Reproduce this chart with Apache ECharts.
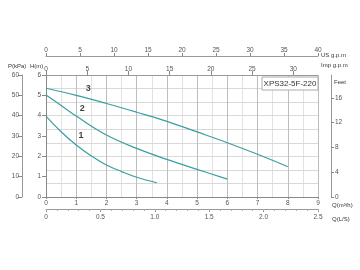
<!DOCTYPE html>
<html><head><meta charset="utf-8">
<script src="https://cdn.jsdelivr.net/npm/echarts@6/dist/echarts.min.js"></script>
<style>html,body{margin:0;padding:0;background:#fff}#c{width:360px;height:270px}</style>
</head><body><div id="c"></div>
<script>
// Curve data: flow Q (m³/h) vs head H (m)
const flow1 = [0, 0.5, 1, 1.5, 2, 2.5, 3, 3.67];
const head1 = [3.98, 3.21, 2.56, 2.02, 1.57, 1.25, 0.97, 0.70];
const flow2 = [0, 0.5, 1, 2, 3, 4, 5, 6];
const head2 = [5.02, 4.5, 3.98, 3.05, 2.39, 1.85, 1.36, 0.88];
const flow3 = [0, 1, 2, 3, 4, 5, 6, 7, 8];
const head3 = [5.35, 5.0, 4.6, 4.17, 3.72, 3.2, 2.67, 2.1, 1.49];
const curveNames = ['1', '2', '3'];
const curveLabelPos = [[1.16, 3.03], [1.2, 4.36], [1.4, 5.33]];
const modelName = 'XPS32-5F-220';
const lsLabels = ['0', '0.5', '1.0', '1.5', '2.0', '2.5'];

const teal = '#3a9fa0';
const tickFont = {fontSize: 6.5, color: '#555', fontFamily: 'Liberation Sans'};
const zip = (a, b) => a.map((v, i) => [v, b[i]]);

const chart = echarts.init(document.getElementById('c'), null, {renderer: 'canvas'});
const axisLine = {show: true, onZero: false, lineStyle: {color: '#999', width: 1}};
const tickStyle = {color: '#888'};
chart.setOption({
  animation: false,
  grid: {left: 46, right: 42, top: 75, bottom: 73},
  xAxis: [
    {type: 'value', min: 0, max: 9, interval: 1, position: 'bottom',
     axisLine: {show: true, onZero: false, lineStyle: {color: '#888'}},
     axisTick: {show: true, length: 2, lineStyle: tickStyle},
     axisLabel: Object.assign({margin: 3}, tickFont),
     splitLine: {show: true, lineStyle: {color: '#bdbdbd', width: 1}}},
    {type: 'value', min: 0, max: 40, interval: 5, position: 'top', offset: 19,
     axisLine: axisLine,
     axisTick: {show: true, length: 3, lineStyle: tickStyle},
     axisLabel: Object.assign({margin: 2}, tickFont),
     splitLine: {show: false}},
    {type: 'value', min: 0, max: 33, interval: 5, position: 'top', offset: 0,
     axisLine: axisLine,
     axisTick: {show: true, length: 4, lineStyle: tickStyle},
     axisLabel: Object.assign({margin: 2, showMaxLabel: false}, tickFont),
     splitLine: {show: false}},
    {type: 'value', min: 0, max: 2.5, interval: 0.5, position: 'bottom', offset: 12,
     axisLine: axisLine,
     axisTick: {show: true, length: 3, lineStyle: tickStyle},
     axisLabel: Object.assign({margin: 5, formatter: (v) => lsLabels[Math.round(v * 2)]}, tickFont),
     splitLine: {show: false}},
    {type: 'value', min: 0, max: 2.5, interval: 0.1, position: 'bottom', offset: 12,
     axisLine: {show: false, onZero: false},
     axisTick: {show: true, length: 2, lineStyle: {color: '#aaa'}},
     axisLabel: {show: false},
     splitLine: {show: false}},
    {type: 'value', min: 0, max: 9, interval: 0.5, position: 'bottom',
     axisLine: {show: false, onZero: false}, axisTick: {show: false}, axisLabel: {show: false},
     splitLine: {show: true, lineStyle: {color: '#e2e2e2', width: 1}}, z: -1}
  ],
  yAxis: [
    {type: 'value', min: 0, max: 6, interval: 1, position: 'left',
     axisLine: {show: true, onZero: false, lineStyle: {color: '#888'}},
     axisTick: {show: true, length: 4, lineStyle: tickStyle},
     axisLabel: Object.assign({margin: 5}, tickFont),
     splitLine: {show: false}},
    {type: 'value', min: 0, max: 60, interval: 10, position: 'left', offset: 24,
     axisLine: axisLine,
     axisTick: {show: true, length: 4, lineStyle: tickStyle},
     axisLabel: Object.assign({margin: 3}, tickFont),
     splitLine: {show: false}},
    {type: 'value', min: 0, max: 19.685, interval: 4, position: 'right', offset: 13,
     axisLine: axisLine,
     axisTick: {show: true, length: 3, lineStyle: tickStyle},
     axisLabel: Object.assign({margin: 4, showMaxLabel: false}, tickFont),
     splitLine: {show: false}},
    {type: 'value', min: 0, max: 9, interval: 1, position: 'right',
     axisLine: {show: false, onZero: false}, axisTick: {show: false}, axisLabel: {show: false},
     splitLine: {show: true, lineStyle: {color: '#d9d9d9', width: 1}}}
  ],
  series: [
    {type: 'line', data: zip(flow1, head1), smooth: 0.4, showSymbol: false, lineStyle: {color: teal, width: 1.2}},
    {type: 'line', data: zip(flow2, head2), smooth: 0.4, showSymbol: false, lineStyle: {color: teal, width: 1.2}},
    {type: 'line', data: zip(flow3, head3), smooth: 0.4, showSymbol: false, lineStyle: {color: teal, width: 1.2}},
    {type: 'scatter', symbolSize: 0, silent: true,
     data: curveLabelPos.map((p, i) => ({value: p, name: curveNames[i]})),
     label: {show: true, position: 'inside', formatter: '{b}', fontSize: 9, fontWeight: 'bold', color: '#111', fontFamily: 'Liberation Sans'}}
  ],
  graphic: [
    {type: 'rect', shape: {x: 262, y: 77, width: 56, height: 13}, style: {fill: '#fff', stroke: '#aaa', lineWidth: 1}, z: 10},
    {type: 'text', x: 290, y: 83.5, z: 11, style: {text: modelName, fontSize: 8, fill: '#333', align: 'center', verticalAlign: 'middle', fontFamily: 'Liberation Sans'}},
    {type: 'text', x: 8, y: 66, style: {text: 'P(kPa)', fontSize: 6, fill: '#333', verticalAlign: 'middle', fontFamily: 'Liberation Sans'}},
    {type: 'text', x: 30, y: 66, style: {text: 'H(m)', fontSize: 6, fill: '#333', verticalAlign: 'middle', fontFamily: 'Liberation Sans'}},
    {type: 'text', x: 321, y: 55, style: {text: 'US g.p.m', fontSize: 6, fill: '#333', verticalAlign: 'middle', fontFamily: 'Liberation Sans'}},
    {type: 'text', x: 321, y: 65, style: {text: 'Imp g.p.m', fontSize: 6, fill: '#333', verticalAlign: 'middle', fontFamily: 'Liberation Sans'}},
    {type: 'text', x: 334, y: 82, style: {text: 'Feet', fontSize: 6, fill: '#333', verticalAlign: 'middle', fontFamily: 'Liberation Sans'}},
    {type: 'text', x: 332, y: 205, style: {text: 'Q(m³/h)', fontSize: 6, fill: '#333', verticalAlign: 'middle', fontFamily: 'Liberation Sans'}},
    {type: 'text', x: 332, y: 219, style: {text: 'Q(L/S)', fontSize: 6, fill: '#333', verticalAlign: 'middle', fontFamily: 'Liberation Sans'}}
  ]
});
</script></body></html>
